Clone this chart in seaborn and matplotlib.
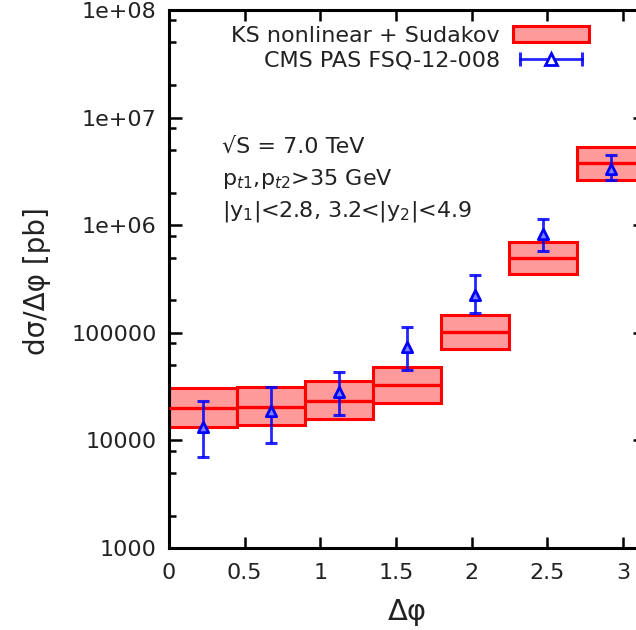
import numpy as np
import matplotlib
matplotlib.use("Agg")
from matplotlib import pyplot as plt
from matplotlib.patches import Patch
from matplotlib.lines import Line2D
from matplotlib.legend_handler import HandlerLine2D
from matplotlib.ticker import LogLocator, NullFormatter
import seaborn as sns

sns.set_theme(style="ticks")
plt.rcParams["font.family"] = ["DejaVu Sans"]

# delta phi bins (pi/7 wide)
bin_centers = [0.224, 0.673, 1.122, 1.571, 2.020, 2.468, 2.917]
bin_width = 0.449

# KS nonlinear + Sudakov: central value and band
ks_central = [2.02e4, 2.05e4, 2.3e4, 3.3e4, 1.02e5, 5.0e5, 3.75e6]
ks_low = [1.34e4, 1.38e4, 1.57e4, 2.24e4, 7.1e4, 3.55e5, 2.65e6]
ks_high = [3.07e4, 3.15e4, 3.6e4, 4.8e4, 1.47e5, 7.0e5, 5.3e6]

# CMS PAS FSQ-12-008 data
cms_val = [1.34e4, 1.88e4, 2.8e4, 7.4e4, 2.26e5, 8.25e5, 3.33e6]
cms_low = [7.0e3, 9.4e3, 1.73e4, 4.54e4, 1.52e5, 5.75e5, 2.62e6]
cms_high = [2.3e4, 3.16e4, 4.35e4, 1.14e5, 3.48e5, 1.14e6, 4.48e6]

ytick_vals = [1e3, 1e4, 1e5, 1e6, 1e7, 1e8]
ytick_labels = ["1000", "10000", "100000", "1e+06", "1e+07", "1e+08"]
xtick_vals = [0, 0.5, 1, 1.5, 2, 2.5, 3]
xtick_labels = ["0", "0.5", "1", "1.5", "2", "2.5", "3"]

txt = "#222222"
red = "#ff0000"
fill = "#ff9a9a"
blue = "#0000ff"

fig = plt.figure(figsize=(6.36, 6.30), dpi=100)
ax = fig.add_axes([169 / 636, 1 - 548 / 630, 475.6 / 636, 538 / 630])

x = np.array(bin_centers)
lo = np.array(ks_low)
hi = np.array(ks_high)
ax.bar(x, hi - lo, bottom=lo, width=bin_width, color=fill, edgecolor=red,
       linewidth=2.2, zorder=2)
ax.hlines(ks_central, x - bin_width / 2, x + bin_width / 2, color=red,
          linewidth=2.4, zorder=3)

val = np.array(cms_val)
yerr = [val - np.array(cms_low), np.array(cms_high) - val]
ax.errorbar(x, val, yerr=yerr, fmt="none", ecolor=blue, elinewidth=2,
            capsize=4.5, capthick=2.2, alpha=0.85, zorder=4)
sns.scatterplot(x=x, y=val, ax=ax, marker="^", s=55, facecolor="#8080ff",
                edgecolor=blue, linewidth=2, zorder=5, legend=False)

ax.set_yscale("log")
ax.set_xlim(0, np.pi)
ax.set_ylim(1e3, 1e8)
ax.set_yticks(ytick_vals, ytick_labels)
ax.yaxis.set_minor_locator(LogLocator(base=10, subs=[2, 5, 8]))
ax.yaxis.set_minor_formatter(NullFormatter())
ax.set_xticks(xtick_vals, xtick_labels)

for s in ax.spines.values():
    s.set_linewidth(2.2)
    s.set_color("black")
ax.tick_params(which="major", direction="in", length=9, width=1.8,
               top=True, right=True, labelsize=16, labelcolor=txt, color="black")
ax.tick_params(which="minor", direction="in", length=5, width=1.8,
               left=True, right=True, color="black")
ax.tick_params(axis="x", which="major", pad=11, length=8)
ax.tick_params(axis="y", which="major", pad=9)

fig.text(37 / 636, 1 - 281 / 630, "dσ/Δφ [pb]", rotation=90, fontsize=20,
         color=txt, ha="center", va="center")
fig.text(407 / 636, 1 - 612 / 630, "Δφ", fontsize=21, color=txt,
         ha="center", va="center")

fig.text(222 / 636, 1 - 147 / 630, "√S = 7.0 TeV", fontsize=16, color=txt,
         va="center")
fig.text(222 / 636, 1 - 179 / 630, r"p$_{t1}$,p$_{t2}$>35 GeV", fontsize=16,
         color=txt, va="center")
fig.text(222 / 636, 1 - 212 / 630, r"|y$_1$|<2.8, 3.2<|y$_2$|<4.9",
         fontsize=16, color=txt, va="center")

# legend, gnuplot style (text left of sample)
h_ks = Patch(facecolor=fill, edgecolor=red, linewidth=2.2)
h_caps = Line2D([], [], color=blue, linewidth=2, marker="|", markersize=10,
                markeredgewidth=2.2, alpha=0.85)
h_tri = Line2D([], [], color=blue, linestyle="none", marker="^", markersize=8,
               markerfacecolor="white", markeredgewidth=2)
leg = fig.legend([h_ks, (h_caps, h_tri)],
                 ["KS nonlinear + Sudakov", "CMS PAS FSQ-12-008"],
                 loc="upper right", bbox_to_anchor=(589 / 636, 1 - 26 / 630),
                 frameon=False, markerfirst=False, fontsize=16,
                 handlelength=3.4, handletextpad=0.6, labelspacing=0.2,
                 borderpad=0, borderaxespad=0,
                 handler_map={h_caps: HandlerLine2D(numpoints=2),
                              h_tri: HandlerLine2D(numpoints=1)})
for t in leg.get_texts():
    t.set_color(txt)

fig.savefig("out.png", dpi=100)
